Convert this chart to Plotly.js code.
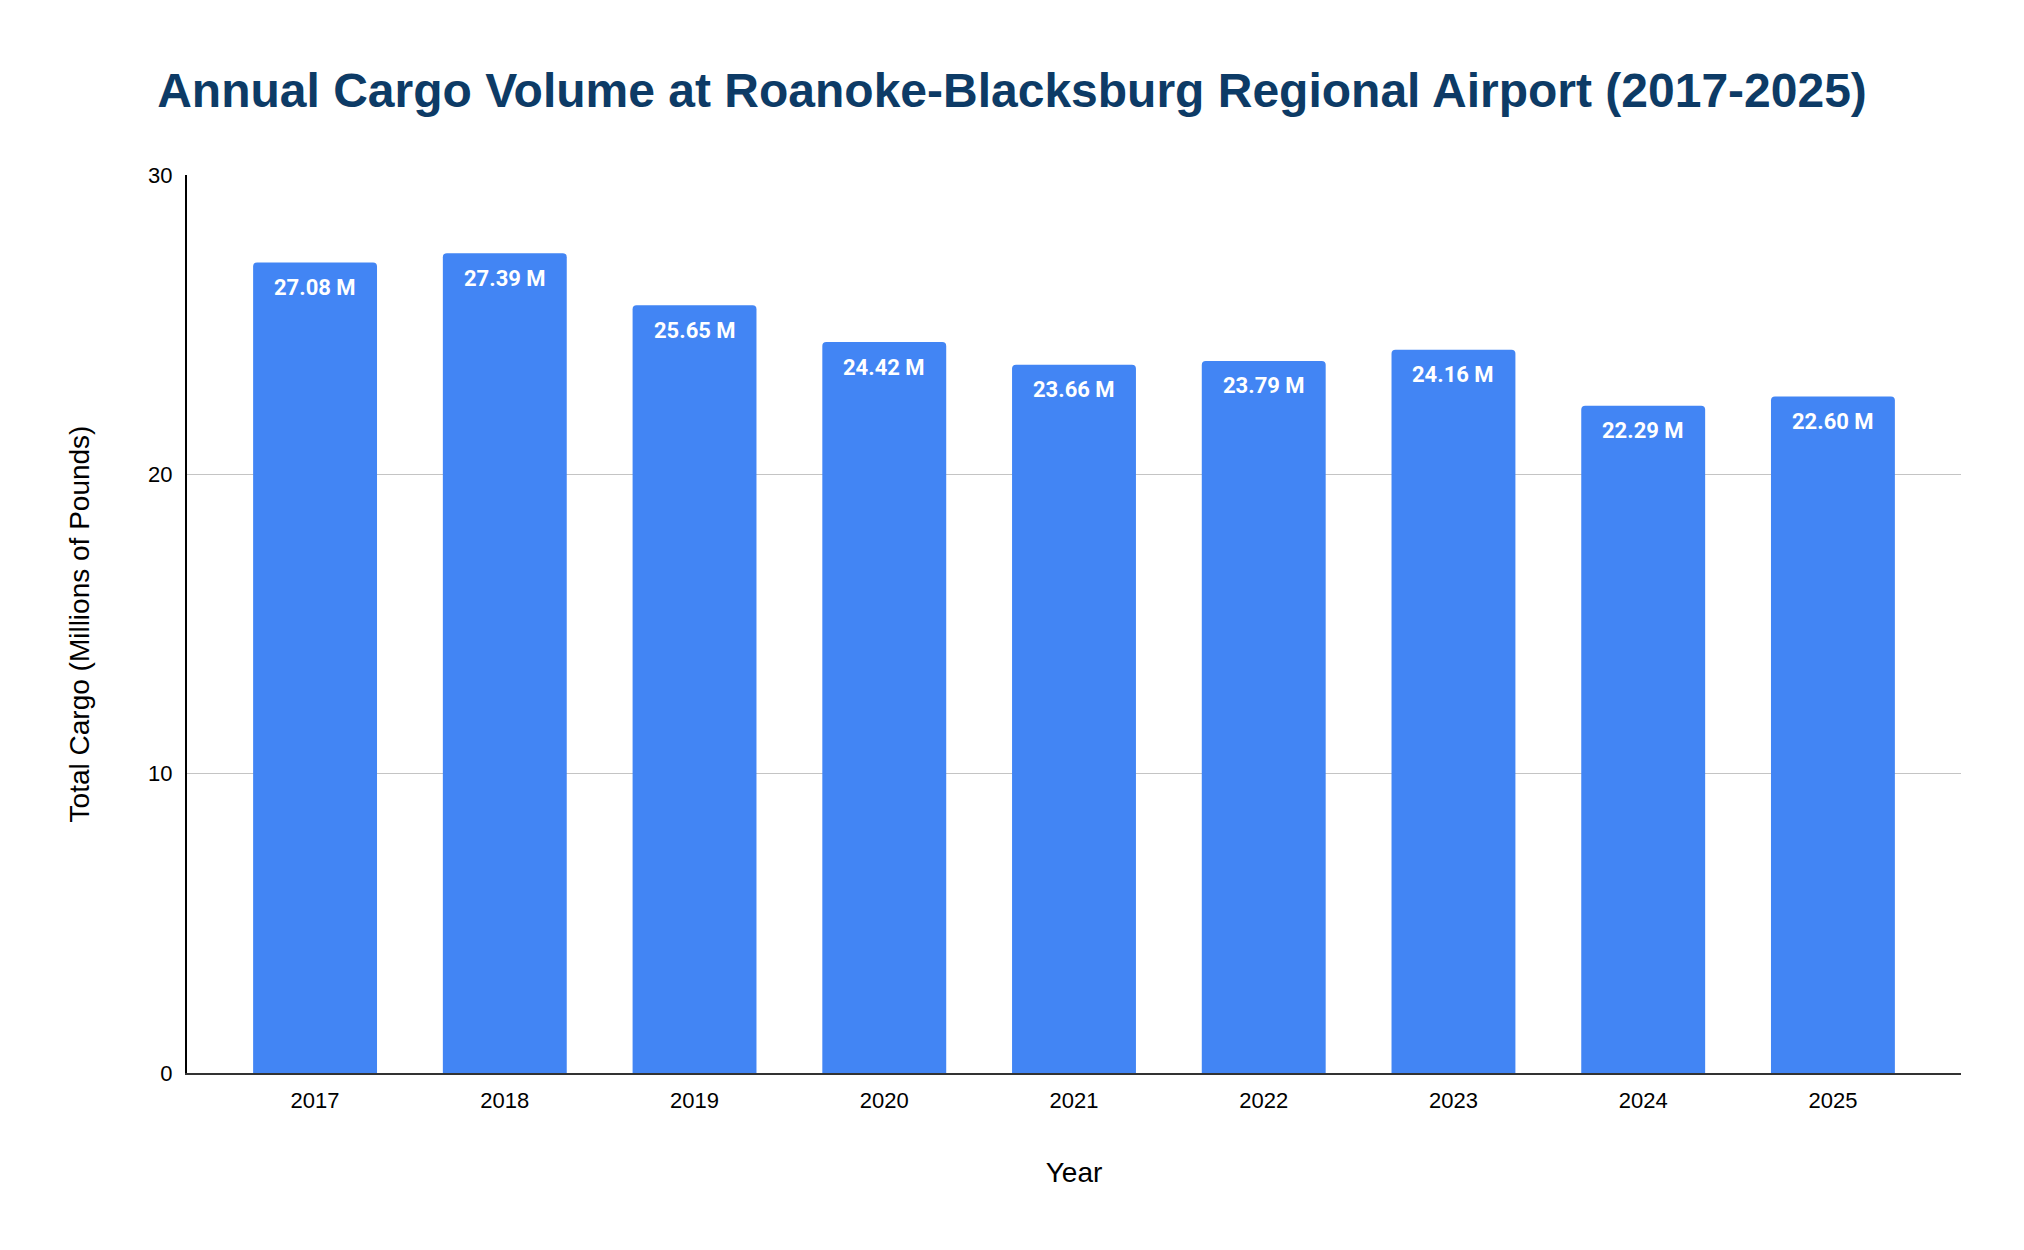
<!DOCTYPE html>
<html>
<head>
<meta charset="utf-8">
<script src="https://cdn.plot.ly/plotly-3.0.1.min.js"></script>
<style>
  html, body { margin: 0; padding: 0; background: #ffffff; }
  #chart { width: 2024px; height: 1250px; }
</style>
</head>
<body>
<div id="chart"></div>
<script>
// Annual cargo volume, millions of pounds
const years = ['2017', '2018', '2019', '2020', '2021', '2022', '2023', '2024', '2025'];
const cargoMillions = [27.08, 27.39, 25.65, 24.42, 23.66, 23.79, 24.16, 22.29, 22.60];
const yTicks = [0, 10, 20, 30];

const barColor = '#4285F4';
const baseFont = 'Liberation Sans, Arial, sans-serif';

const trace = {
    type: 'bar',
    x: years,
    y: cargoMillions,
    marker: { color: barColor, cornerradius: 4 },
    hoverinfo: 'x+y'
};

// value labels sit inside the top of each bar
// (x is the category index, a year string would be read as a serial number)
const labels = cargoMillions.map((v, i) => ({
    x: i,
    y: v,
    xref: 'x',
    yref: 'y',
    text: '<b>' + v.toFixed(2) + ' M</b>',
    showarrow: false,
    yanchor: 'middle',
    yshift: -25,
    font: { family: 'Roboto', size: 22, color: '#ffffff' }
}));

const layout = {
    width: 2024,
    height: 1250,
    margin: { l: 187, r: 63, t: 175, b: 177 },
    paper_bgcolor: '#ffffff',
    plot_bgcolor: '#ffffff',
    showlegend: false,
    bargap: 0.347,
    title: {
        text: '<b>Annual Cargo Volume at Roanoke-Blacksburg Regional Airport (2017-2025)</b>',
        x: 0.5,
        xanchor: 'center',
        y: 0.928,
        yanchor: 'middle',
        font: { family: baseFont, size: 48, color: '#0d3b66' }
    },
    xaxis: {
        type: 'category',
        range: [-0.675, 8.675],
        showgrid: false,
        showline: true,
        linecolor: '#333333',
        linewidth: 2,
        ticks: '',
        ticklabelstandoff: 7,
        tickfont: { family: baseFont, size: 22, color: '#000000' },
        title: {
            text: 'Year',
            standoff: 50,
            font: { family: baseFont, size: 28, color: '#000000' }
        }
    },
    yaxis: {
        range: [0, 30],
        tickvals: yTicks,
        ticktext: yTicks.map(String),
        showgrid: true,
        gridcolor: '#c4c4c4',
        gridwidth: 1.5,
        zeroline: false,
        showline: true,
        linecolor: '#000000',
        linewidth: 2,
        ticks: '',
        ticklabelstandoff: 8,
        tickfont: { family: baseFont, size: 22, color: '#000000' },
        title: {
            text: 'Total Cargo (Millions of Pounds)',
            standoff: 50,
            font: { family: baseFont, size: 28, color: '#000000' }
        }
    },
    annotations: labels
};

Plotly.newPlot('chart', [trace], layout, { displayModeBar: false, staticPlot: true });
</script>
</body>
</html>
